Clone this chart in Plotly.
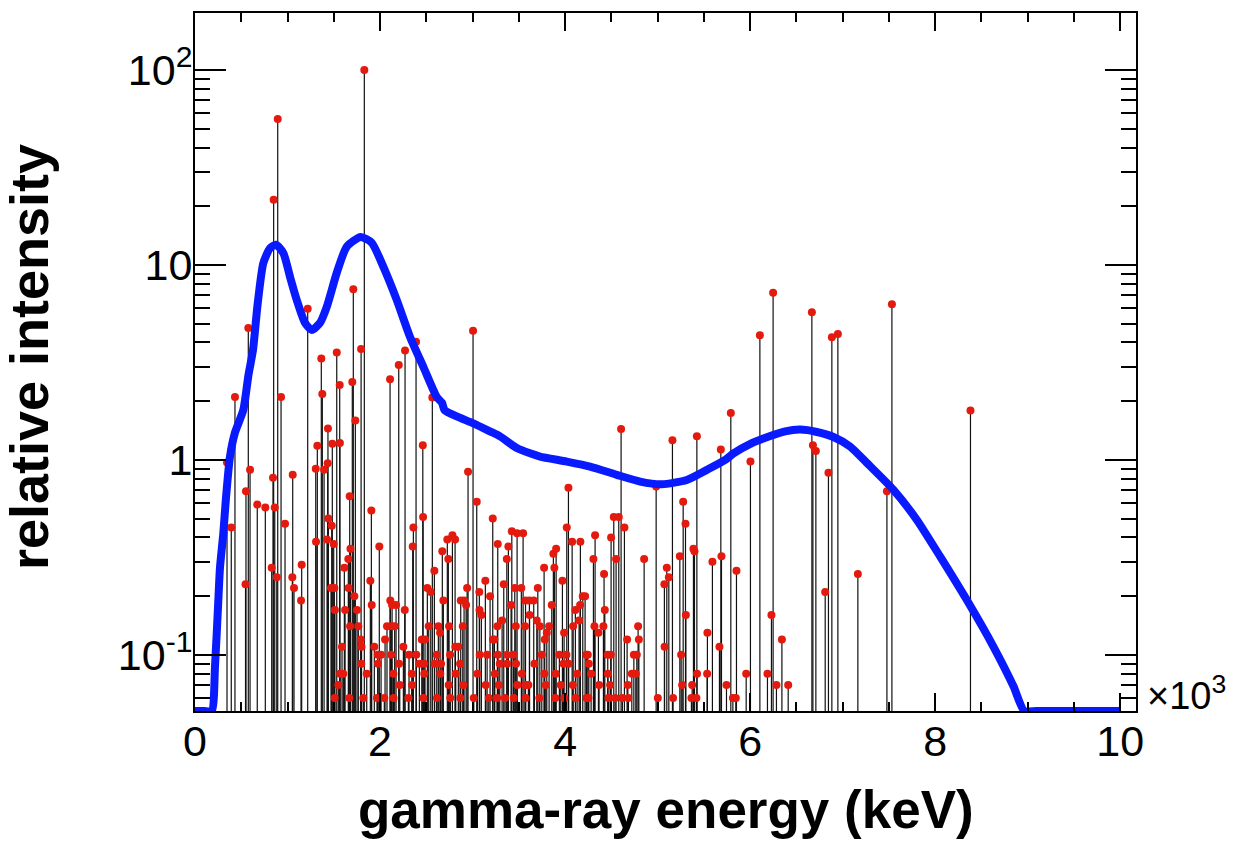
import math
import plotly.graph_objects as go

# ---------------- data ----------------
# gamma-ray lines: energy (keV) and relative intensity
line_energy = [
    346, 392, 432, 546, 551, 576, 595, 673, 760, 829,
    843, 850, 862, 884, 894, 930, 973, 1052, 1056, 1070,
    1146, 1153, 1218, 1305, 1308, 1322, 1365, 1376, 1395, 1427,
    1434, 1437, 1441, 1470, 1478, 1484, 1499, 1506, 1510, 1512,
    1532, 1549, 1564, 1566, 1568, 1589, 1603, 1614, 1622, 1640,
    1657, 1660, 1668, 1672, 1676, 1680, 1700, 1711, 1722, 1733,
    1751, 1765, 1791, 1795, 1797, 1800, 1802, 1819, 1830, 1856,
    1895, 1906, 1910, 1938, 1967, 1975, 1978, 1992, 2011, 2018,
    2046, 2054, 2072, 2075, 2108, 2111, 2119, 2126, 2130, 2144,
    2146, 2155, 2158, 2173, 2202, 2205, 2213, 2252, 2267, 2270,
    2306, 2313, 2343, 2346, 2353, 2360, 2389, 2392, 2425, 2443,
    2451, 2462, 2465, 2468, 2476, 2478, 2486, 2505, 2511, 2526,
    2548, 2565, 2587, 2590, 2613, 2615, 2617, 2630, 2649, 2651,
    2659, 2673, 2684, 2727, 2738, 2742, 2746, 2757, 2759, 2782,
    2811, 2814, 2818, 2846, 2865, 2868, 2872, 2894, 2900, 2908,
    2930, 2941, 2951, 3005, 3013, 3045, 3052, 3073, 3075, 3077,
    3092, 3095, 3138, 3142, 3157, 3175, 3189, 3218, 3220, 3225,
    3236, 3240, 3265, 3268, 3272, 3274, 3283, 3294, 3316, 3319,
    3337, 3351, 3370, 3372, 3374, 3387, 3416, 3424, 3441, 3443,
    3445, 3456, 3467, 3470, 3481, 3484, 3527, 3532, 3546, 3567,
    3569, 3572, 3574, 3586, 3603, 3614, 3616, 3661, 3668, 3694,
    3705, 3722, 3727, 3748, 3773, 3776, 3780, 3791, 3802, 3813,
    3827, 3856, 3873, 3884, 3895, 3899, 3903, 3938, 3953, 3971,
    3982, 3989, 3992, 4014, 4018, 4036, 4038, 4076, 4078, 4083,
    4087, 4111, 4113, 4126, 4130, 4151, 4162, 4165, 4191, 4216,
    4230, 4232, 4245, 4252, 4256, 4281, 4306, 4317, 4324, 4360,
    4367, 4414, 4421, 4429, 4461, 4463, 4468, 4476, 4486, 4494,
    4497, 4526, 4540, 4551, 4580, 4587, 4605, 4619, 4641, 4643,
    4670, 4678, 4684, 4721, 4743, 4764, 4775, 4777, 4789, 4797,
    4811, 4854, 4984, 5002, 5052, 5073, 5075, 5099, 5121, 5160,
    5167, 5240, 5254, 5265, 5276, 5301, 5305, 5365, 5373, 5387,
    5398, 5419, 5424, 5426, 5434, 5488, 5535, 5538, 5586, 5592,
    5668, 5683, 5690, 5744, 5791, 5813, 5845, 5852, 5957, 6003,
    6105, 6187, 6230, 6248, 6284, 6343, 6349, 6411, 6476, 6667,
    6678, 6710, 6811, 6846, 6883, 6948, 7164, 7478, 7532, 8381,
]
line_intensity = [
    0.97, 0.45, 2.10, 0.23, 0.69, 4.75, 0.89, 0.59, 0.57, 0.28,
    0.81, 21.6, 0.57, 0.25, 56.0, 2.10, 0.47, 0.25, 0.84, 0.22,
    0.19, 0.29, 5.95, 0.90, 0.38, 1.18, 3.31, 2.18, 0.89, 0.39,
    0.96, 1.45, 0.50, 0.22, 0.46, 1.21, 0.37, 0.22, 0.06, 0.17,
    3.55, 0.07, 2.42, 1.22, 0.08, 0.11, 0.08, 0.28, 0.17, 0.05,
    0.31, 0.22, 0.06, 0.65, 0.14, 0.35, 2.51, 7.5, 0.20, 1.59,
    0.17, 0.14, 0.12, 3.7, 0.09, 0.11, 0.05, 0.06, 100.0, 0.08,
    0.24, 0.55, 0.18, 0.11, 0.06, 0.10, 0.09, 0.36, 0.10, 0.05,
    0.06, 0.12, 0.05, 0.14, 2.59, 0.19, 0.10, 0.14, 0.18, 0.08,
    0.06, 0.05, 0.14, 0.18, 3.07, 0.09, 0.07, 0.11, 0.17, 3.64,
    0.06, 0.10, 0.08, 0.07, 0.36, 0.45, 4.03, 0.10, 0.09, 0.05,
    0.12, 1.19, 0.51, 0.06, 0.09, 0.08, 0.12, 0.05, 0.22, 0.14,
    0.21, 2.09, 0.27, 0.09, 0.10, 0.06, 0.05, 0.14, 0.13, 0.08,
    0.09, 0.34, 0.19, 0.39, 0.31, 0.07, 0.14, 0.10, 0.06, 0.41,
    0.39, 0.11, 0.08, 0.11, 0.09, 0.06, 0.19, 0.14, 0.07, 0.19,
    0.18, 0.22, 0.87, 4.6, 0.06, 0.61, 0.08, 0.21, 0.17, 0.10,
    0.05, 0.16, 0.24, 0.07, 0.10, 0.06, 0.20, 0.50, 0.12, 0.05,
    0.12, 0.08, 0.06, 0.14, 0.37, 0.10, 0.07, 0.09, 0.05, 0.15,
    0.23, 0.06, 0.31, 0.09, 0.10, 0.36, 0.18, 0.43, 0.10, 0.05,
    0.06, 0.22, 0.14, 0.09, 0.42, 0.07, 0.22, 0.08, 0.42, 0.14,
    0.07, 0.19, 0.06, 0.05, 0.07, 0.19, 0.16, 0.19, 0.09, 0.15,
    0.22, 0.06, 0.14, 0.10, 0.28, 0.08, 0.12, 0.07, 0.13, 0.05,
    0.14, 0.18, 0.33, 0.28, 0.06, 0.08, 0.35, 0.10, 0.07, 0.24,
    0.09, 0.13, 0.06, 0.10, 0.45, 0.72, 0.09, 0.38, 0.05, 0.07,
    0.14, 0.17, 0.06, 0.05, 0.08, 0.15, 0.18, 0.38, 0.20, 0.20,
    0.10, 0.06, 0.10, 0.06, 0.09, 0.08, 0.31, 0.14, 0.41, 0.13,
    0.07, 0.14, 0.26, 0.17, 0.10, 0.08, 0.06, 0.05, 0.07, 0.10,
    0.40, 0.51, 0.06, 0.31, 0.51, 0.05, 1.44, 0.06, 0.45, 0.05,
    0.12, 0.07, 0.06, 0.08, 0.10, 0.08, 0.10, 0.05, 0.14, 0.12,
    0.05, 0.31, 0.73, 0.06, 0.05, 0.23, 0.11, 0.28, 0.25, 1.26,
    0.06, 0.32, 0.10, 0.07, 0.61, 0.47, 0.16, 0.06, 0.07, 0.35,
    0.34, 0.06, 1.32, 0.08, 0.05, 0.05, 0.08, 0.13, 0.05, 0.30,
    0.11, 1.13, 0.32, 0.07, 1.74, 0.06, 0.06, 0.27, 0.08, 0.98,
    4.36, 0.08, 0.16, 7.2, 0.07, 0.12, 0.05, 0.07, 0.05, 5.72,
    1.19, 1.11, 0.21, 0.86, 4.26, 4.42, 0.26, 0.69, 6.28, 1.79,
]

# smooth (folded) spectrum curve; None = at/below the axis floor
curve_energy = [
    0, 100, 180, 216, 252, 270, 306, 335, 378, 432, 522,
    578, 627, 676, 738, 811, 876, 955, 1027, 1099, 1189,
    1262, 1351, 1424, 1532, 1640, 1791, 1910, 2036, 2180, 2324,
    2468, 2613, 2670, 2697, 2829, 3008, 3189, 3297, 3478, 3621,
    3729, 4018, 4270, 4559, 4811, 5045, 5315, 5532, 5730, 5820,
    6018, 6108, 6378, 6540, 6721, 6900, 7081, 7261, 7549, 7802,
    8054, 8342, 8630, 8846, 8962, 9100, 9600, 10000,
]
curve_intensity = [
    None, None, None, 0.087, 0.19, 0.28, 0.42, 0.64, 1.04, 1.38, 1.80,
    2.73, 3.66, 6.24, 10.2, 12.2, 12.7, 11.5, 8.68, 6.62, 5.04,
    4.64, 5.04, 6.09, 9.10, 12.4, 13.9, 13.0, 9.77, 6.62, 4.27,
    3.00, 2.10, 1.96, 1.80, 1.67, 1.54, 1.40, 1.32, 1.15, 1.08,
    1.04, 0.98, 0.924, 0.838, 0.774, 0.75, 0.789, 0.889, 1.0, 1.08,
    1.22, 1.27, 1.40, 1.43, 1.39, 1.31, 1.17, 0.965, 0.702, 0.492,
    0.319, 0.191, 0.110, 0.069, None, None, None, None,
]

x_tick_vals = [0, 2000, 4000, 6000, 8000, 10000]
x_tick_text = ["0", "2", "4", "6", "8", "10"]
y_tick_vals = [0.1, 1, 10, 100]
y_tick_text = ["10<sup>-1</sup>", "1", "10", "10<sup>2</sup>"]

# ---------------- figure ----------------
Y_LOG_MIN, Y_LOG_MAX = -1.288, 2.292
X_MAX = 10170
floor = 10 ** Y_LOG_MIN

stem_x, stem_y = [], []
for e, v in zip(line_energy, line_intensity):
    stem_x += [e, e, None]
    stem_y += [floor, max(v, floor), None]

curve_y = [floor if v is None else v for v in curve_intensity]

y_minor = [m * 10 ** d for d in range(-2, 3) for m in range(2, 10)
           if Y_LOG_MIN < math.log10(m * 10 ** d) < Y_LOG_MAX]

FONT = "Liberation Sans, Arial, Helvetica, sans-serif"

fig = go.Figure()
fig.add_trace(go.Scatter(
    x=stem_x, y=stem_y, mode="lines",
    line=dict(color="#111111", width=1.2), hoverinfo="skip", showlegend=False))
fig.add_trace(go.Scatter(
    x=line_energy, y=line_intensity, mode="markers",
    marker=dict(color="#e41a0e", size=8, line=dict(width=0)),
    cliponaxis=False, showlegend=False))
fig.add_trace(go.Scatter(
    x=curve_energy, y=curve_y, mode="lines",
    line=dict(color="#0a1aff", width=8, shape="spline", smoothing=0.6),
    showlegend=False))

axis_common = dict(
    showline=True, linecolor="black", linewidth=2, mirror="ticks",
    ticks="inside", tickcolor="black", tickwidth=1.5,
    showgrid=False, zeroline=False,
    tickfont=dict(family=FONT, size=43, color="black"),
)

fig.update_xaxes(
    range=[0, X_MAX], tickmode="array", tickvals=x_tick_vals, ticktext=x_tick_text,
    ticklen=18, ticklabelstandoff=-9,
    minor=dict(tickmode="linear", tick0=0, dtick=500, ticks="inside", ticklen=9,
               tickwidth=1.5, tickcolor="black", showgrid=False),
    **axis_common)
fig.update_yaxes(
    type="log", range=[Y_LOG_MIN, Y_LOG_MAX], tickmode="array",
    tickvals=y_tick_vals, ticktext=y_tick_text, ticklen=31, ticklabelstandoff=-8,
    minor=dict(tickmode="array", tickvals=y_minor, ticks="inside", ticklen=15,
               tickwidth=1.5, tickcolor="black", showgrid=False),
    **axis_common)

fig.update_layout(
    width=1240, height=842,
    margin=dict(l=195, r=104, t=13, b=131, pad=0),
    paper_bgcolor="white", plot_bgcolor="white",
    font=dict(family=FONT, color="black"),
    annotations=[
        dict(text="<b>gamma-ray energy (keV)</b>", xref="paper", yref="paper",
             x=0.5, y=-0.141, xanchor="center", yanchor="middle", showarrow=False,
             font=dict(family=FONT, size=53, color="black")),
        dict(text="<b>relative intensity</b>", xref="paper", yref="paper",
             x=-0.1764, y=0.507, xanchor="center", yanchor="middle", showarrow=False,
             textangle=-90, font=dict(family=FONT, size=54, color="black")),
        dict(text="\u00d710<sup>3</sup>", xref="paper", yref="paper",
             x=1.0096, y=-0.012, xanchor="left", yanchor="bottom", showarrow=False,
             font=dict(family=FONT, size=38, color="black")),
    ],
)

fig.write_html("out.html", config={"displayModeBar": False},
               post_script="document.body.style.margin='0px';")
